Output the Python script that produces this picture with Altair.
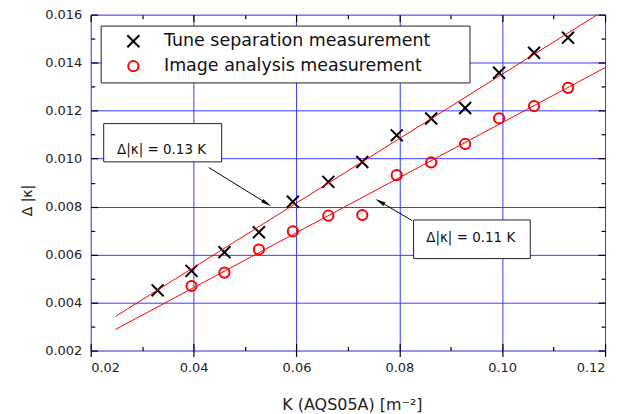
import altair as alt
import pandas as pd

# ---- data ----
series_names = ["Tune separation measurement", "Image analysis measurement"]

k_tune = [0.0330, 0.0396, 0.0460, 0.0527, 0.0593, 0.0662, 0.0728,
          0.0795, 0.0862, 0.0928, 0.0994, 0.1062, 0.1128]
d_tune = [0.00451, 0.00532, 0.00610, 0.00693, 0.00820, 0.00903, 0.00986,
          0.01097, 0.01167, 0.01211, 0.01358, 0.01441, 0.01504]

k_img = [0.0396, 0.0460, 0.0527, 0.0593, 0.0662, 0.0728,
         0.0795, 0.0862, 0.0928, 0.0994, 0.1062, 0.1128]
d_img = [0.00469, 0.00525, 0.00621, 0.00697, 0.00762, 0.00765,
         0.00931, 0.00984, 0.01061, 0.01168, 0.01219, 0.01295]

# fitted lines (end points)
fit_id = ["upper", "upper", "lower", "lower"]
fit_k = [0.0248, 0.1185, 0.0248, 0.1200]
fit_d = [0.00342, 0.01600, 0.00288, 0.01379]

# axis ticks
x_ticks = [0.02, 0.04, 0.06, 0.08, 0.10, 0.12]
x_minor = [0.03, 0.05, 0.07, 0.09, 0.11]
y_ticks = [0.002, 0.004, 0.006, 0.008, 0.010, 0.012, 0.014, 0.016]
y_minor = [0.003, 0.005, 0.007, 0.009, 0.011, 0.013, 0.015]

# annotations (data coordinates)
ann_text = ["\u0394|\u03ba| = 0.13 K", "\u0394|\u03ba| = 0.11 K"]
ann_box_x1 = [0.02252, 0.08277]
ann_box_x2 = [0.04546, 0.10546]
ann_box_y1 = [0.011459, 0.007442]
ann_box_y2 = [0.009864, 0.005834]
ann_text_x = [0.03377, 0.09388]
ann_text_y = [0.010371, 0.006694]
arrow_x1 = [0.04294, 0.0825]
arrow_y1 = [0.009631, 0.007413]
arrow_x2 = [0.05423, 0.07623]
arrow_y2 = [0.008132, 0.008209]
head_angle = [122, 301]

# ---- tables ----
pts = pd.DataFrame({
    "k": k_tune + k_img,
    "d": d_tune + d_img,
    "series": [series_names[0]] * len(k_tune) + [series_names[1]] * len(k_img),
})
fits = pd.DataFrame({"k": fit_k, "d": fit_d, "id": fit_id})
ann = pd.DataFrame({
    "text": ann_text, "bx1": ann_box_x1, "bx2": ann_box_x2,
    "by1": ann_box_y1, "by2": ann_box_y2, "tx": ann_text_x, "ty": ann_text_y,
    "ax1": arrow_x1, "ay1": arrow_y1, "ax2": arrow_x2, "ay2": arrow_y2,
    "ang": head_angle,
})

W, H = 516, 337
FONT = "DejaVu Sans"
xs = alt.Scale(domain=[0.02, 0.12], nice=False, zero=False)
ys = alt.Scale(domain=[0.002, 0.016], nice=False, zero=False)

cross_path = "M-1,-1L1,1M-1,1L1,-1"


def tick_axis(orient, values, size, offset):
    return alt.Axis(orient=orient, values=values, labels=False, domain=False,
                    grid=False, ticks=True, tickSize=size, tickColor="black",
                    tickWidth=1.2, offset=offset)


def tick_layer(xo, yo, xv, yv, size):
    return alt.Chart(pts).mark_point(opacity=0).encode(
        x=alt.X("k:Q", scale=xs, title=None, axis=tick_axis(xo, xv, size, -H)),
        y=alt.Y("d:Q", scale=ys, title=None, axis=tick_axis(yo, yv, size, -W)),
    )


t1 = tick_layer("top", "right", x_ticks, y_ticks, 7)
t2 = tick_layer("top", "right", x_minor, y_minor, 4)
t3 = tick_layer("bottom", "left", x_ticks, y_ticks, 7)
t4 = tick_layer("bottom", "left", x_minor, y_minor, 4)

fit_layer = alt.Chart(fits).mark_line(color="#ff0000", strokeWidth=1).encode(
    x=alt.X("k:Q", scale=xs, axis=None),
    y=alt.Y("d:Q", scale=ys, axis=None),
    detail="id:N",
)

arrows = alt.Chart(ann).mark_rule(color="black", strokeWidth=1).encode(
    x=alt.X("ax1:Q", scale=xs, axis=None), x2="ax2:Q",
    y=alt.Y("ay1:Q", scale=ys, axis=None), y2="ay2:Q",
)
heads = alt.Chart(ann).mark_point(
    shape="M0,-1L0.38,1L-0.38,1Z", filled=True, color="black", opacity=1, size=110
).encode(
    x=alt.X("ax2:Q", scale=xs, axis=None),
    y=alt.Y("ay2:Q", scale=ys, axis=None),
    angle=alt.Angle("ang:Q", scale=None),
)
boxes = alt.Chart(ann).mark_rect(fill="white", stroke="#222222", strokeWidth=1).encode(
    x=alt.X("bx1:Q", scale=xs, axis=None), x2="bx2:Q",
    y=alt.Y("by1:Q", scale=ys, axis=None), y2="by2:Q",
)
texts = alt.Chart(ann).mark_text(font=FONT, fontSize=13.5, color="#111111").encode(
    x=alt.X("tx:Q", scale=xs, axis=None),
    y=alt.Y("ty:Q", scale=ys, axis=None),
    text="text:N",
)

legend = alt.Legend(
    title=None, orient="none", legendX=10, legendY=11, padding=7,
    strokeColor="#222222", fillColor="white", labelFont=FONT, labelFontSize=17.5,
    labelColor="#111111", labelLimit=500, symbolSize=144, symbolStrokeWidth=2,
    rowPadding=5, symbolOffset=17, labelOffset=22,
    labelExpr="datum.label + '\u00a0\u2800\u2800'",
)

main_x_axis = alt.Axis(
    orient="bottom", values=x_ticks, format=".2f", grid=True, gridColor="#3a3aff",
    gridWidth=1, domain=False, ticks=True, tickSize=6, tickColor="black",
    tickWidth=1.2, labelFont=FONT, labelFontSize=13, labelColor="#222222",
    labelPadding=5, titleFont=FONT, titleFontSize=16, titleFontWeight="normal",
    titleColor="#222222", titleX=262, titleY=54, titleBaseline="middle",
    titleAlign="center",
)
main_y_axis = alt.Axis(
    orient="left", values=y_ticks, format=".3f", grid=True, gridColor="#3a3aff",
    gridWidth=1, domain=False, ticks=False, labelFont=FONT, labelFontSize=13,
    labelColor="#222222", labelPadding=9, titleFont=FONT, titleFontSize=14,
    titleFontWeight="normal", titleColor="#222222", titleX=-63, titleY=186,
    titleBaseline="middle", titleAlign="center", titleAngle=270,
)

scatter = alt.Chart(pts).mark_point(filled=False, strokeWidth=2, opacity=1).encode(
    x=alt.X("k:Q", scale=xs, axis=main_x_axis, title="K (AQS05A) [m\u207b\u00b2]"),
    y=alt.Y("d:Q", scale=ys, axis=main_y_axis, title="\u0394 |\u03ba|"),
    color=alt.Color("series:N", scale=alt.Scale(domain=series_names,
                                                range=["#000000", "#ff0000"]),
                    legend=legend),
    shape=alt.Shape("series:N", scale=alt.Scale(domain=series_names,
                                                range=[cross_path, "circle"]),
                    legend=legend),
    size=alt.Size("series:N", scale=alt.Scale(domain=series_names, range=[144, 105]),
                  legend=None),
)

chart = alt.layer(
    scatter, t1, t2, t3, t4, fit_layer, arrows, boxes, texts, heads
).resolve_axis(x="independent", y="independent").properties(
    width=W, height=H,
    padding={"left": 83, "top": 6, "right": 16, "bottom": 64},
    autosize=alt.AutoSizeParams(type="none"),
).configure_view(stroke="black", strokeWidth=1.5).configure(background="white")

chart.save("out.html", embed_options={"renderer": "svg", "actions": False})
